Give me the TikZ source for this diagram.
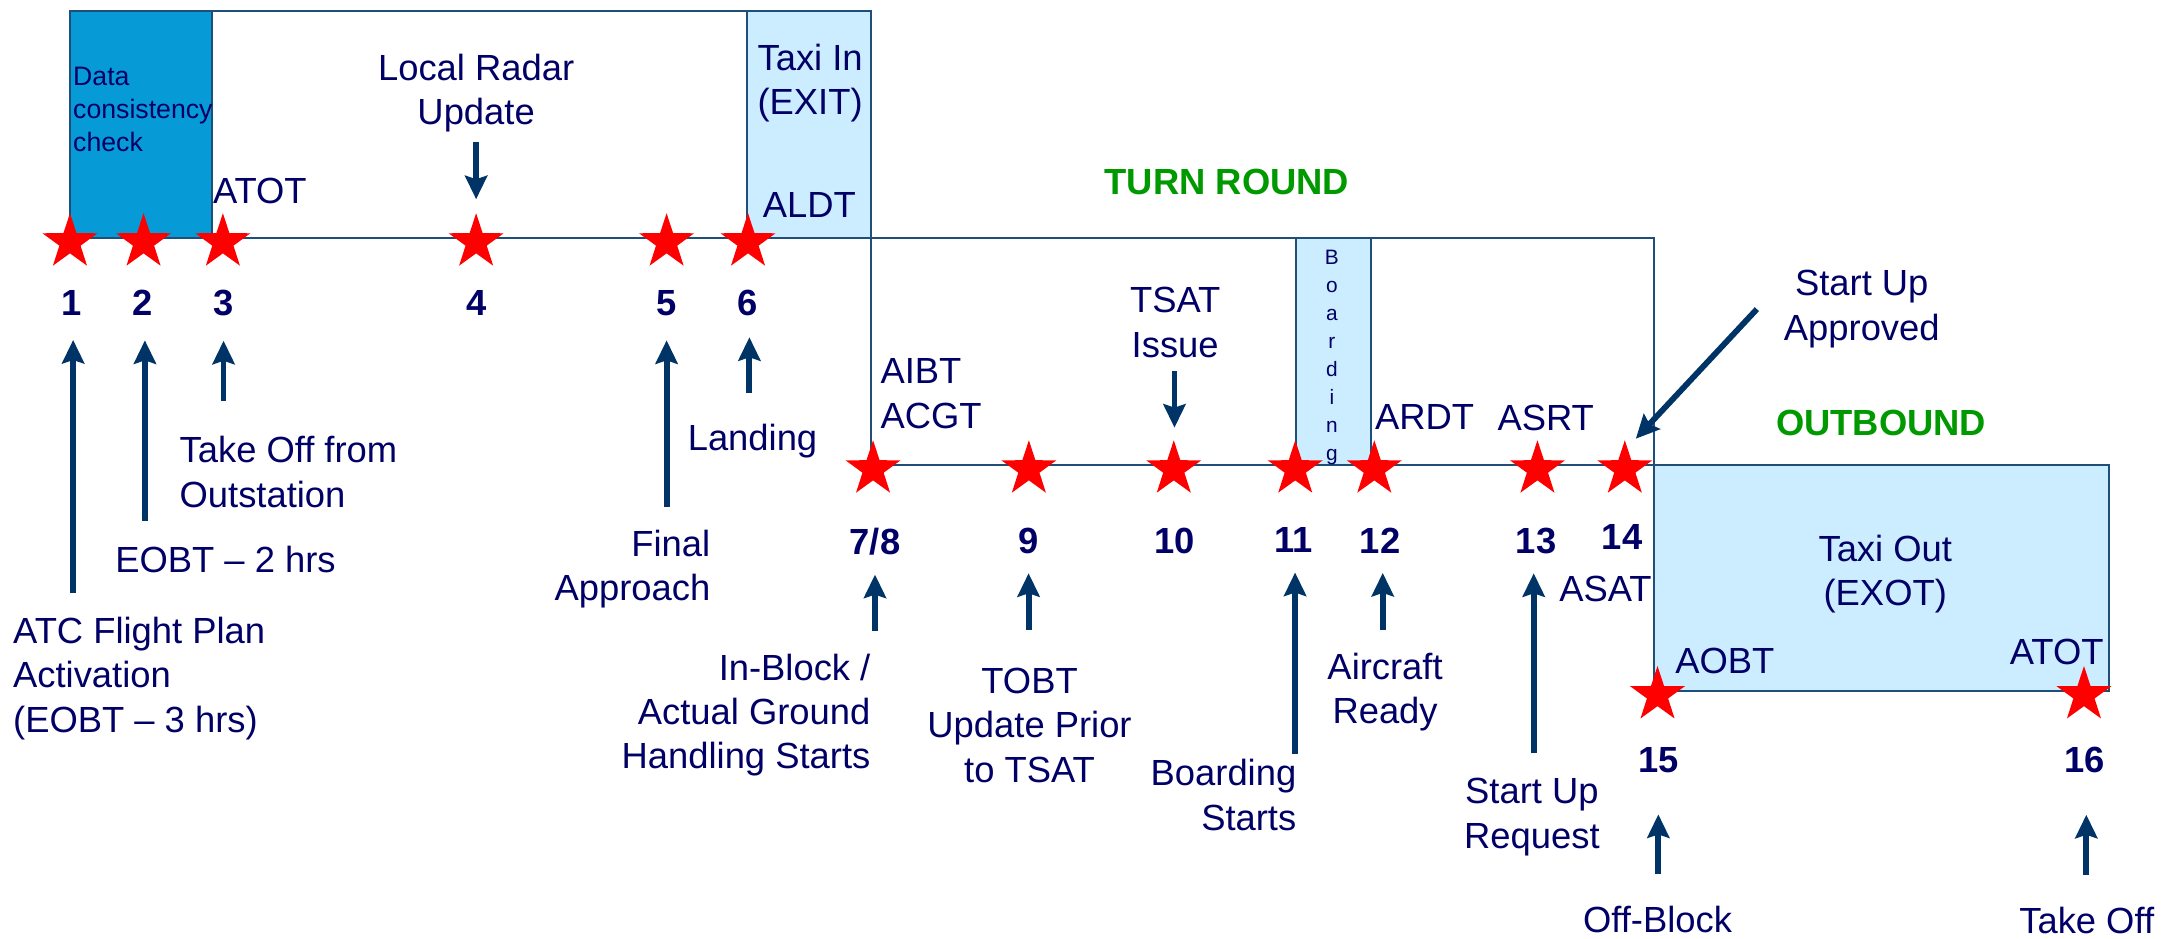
\documentclass[tikz,border=0pt]{standalone}
\usepackage{fontspec}
\setmainfont{Liberation Sans}
\usetikzlibrary{shapes.geometric,arrows.meta}
\definecolor{marine}{RGB}{0,0,102}
\definecolor{bleufleche}{RGB}{0,51,102}
\definecolor{trait}{RGB}{31,78,121}
\definecolor{bleufonce}{RGB}{6,155,215}
\definecolor{bleuclair}{RGB}{204,236,255}
\definecolor{vert}{RGB}{0,153,0}

\begin{document}
\begin{tikzpicture}[x=0.02cm, y=-0.02cm]
\tikzset{etoile/.style={star, star points=5, star point ratio=2.6, fill=red, minimum size=0.84cm, inner sep=0pt},
  boite/.style={draw=trait, line width=0.8pt},
  texte/.style={font=\fontsize{15}{18.2}\selectfont, text=marine, inner sep=0pt, align=center},
  petit/.style={font=\fontsize{11}{13.6}\selectfont, text=marine, inner sep=0pt, align=left},
  titre/.style={font=\bfseries\fontsize{15}{18}\selectfont, text=vert, inner sep=0pt},
  numero/.style={font=\bfseries\fontsize{15}{18}\selectfont, text=marine, inner sep=0pt, anchor=north},
  fleche/.style={draw=bleufleche, line width=2.4pt, -{Stealth[length=0.34cm, width=0.32cm, inset=0.05cm]}}}
\useasboundingbox (0,0) rectangle (1568,680);
\draw[boite] (50.7,8) rectangle (631,172.3);
\draw[boite, fill=bleufonce] (50.7,8) rectangle (153.5,172.3);
\draw[boite, fill=bleuclair] (541,8) rectangle (631,172.3);
\draw[boite] (631,172.3) rectangle (1198.5,337);
\draw[boite, fill=bleuclair] (939,172.3) rectangle (993.5,337);
\draw[boite, fill=bleuclair] (1198.5,337) rectangle (1528,500.5);
\node[etoile] (E1) at (50.7,175.5) {};
\node[etoile] (E2) at (104,175.5) {};
\node[etoile] (E3) at (161.5,175.5) {};
\node[etoile] (E4) at (345,175.5) {};
\node[etoile] (E5) at (483,175.5) {};
\node[etoile] (E6) at (542,175.5) {};
\node[etoile] (E78) at (632.6,340) {};
\node[etoile] (E9) at (745.5,340) {};
\node[etoile] (E10) at (850.5,340) {};
\node[etoile] (E11) at (938.5,340) {};
\node[etoile] (E12) at (995.8,340) {};
\node[etoile] (E13) at (1114,340) {};
\node[etoile] (E14) at (1177.3,340) {};
\node[etoile] (E15) at (1201,503.6) {};
\node[etoile] (E16) at (1510,503.6) {};
\node[numero] (N1) at (52,210) {1};
\node[numero] (N2) at (103,210) {2};
\node[numero] (N3) at (162,210) {3};
\node[numero] (N4) at (345,210) {4};
\node[numero] (N5) at (483,210) {5};
\node[numero] (N6) at (542,210) {6};
\node[numero] (N78) at (634,382) {7/8};
\node[numero] (N9) at (745.3,382) {9};
\node[numero] (N10) at (851,382) {10};
\node[numero] (N11) at (937.4,382) {11};
\node[numero] (N12) at (1000,382) {12};
\node[numero] (N13) at (1113,382) {13};
\node[numero] (N14) at (1175.4,380) {14};
\node[numero] (N15) at (1202,541) {15};
\node[numero] (N16) at (1510.4,541) {16};
\node[petit, anchor=north west] (Tdc) at (52.7,48) {Data\\consistency\\check};
\node[texte, anchor=north] (T4) at (345,38.6) {Local Radar\\Update};
\node[texte, anchor=north] (Ttxi) at (587,31.4) {Taxi In\\(EXIT)};
\node[texte, anchor=north] (Taldt) at (586.5,139) {ALDT};
\node[texte, anchor=north west] (Tatot) at (154,129) {ATOT};
\node[titre, anchor=north] (Ttr) at (889,122) {TURN ROUND};
\node[texte, anchor=north west, align=left] (Taibt) at (637.7,259.7) {AIBT\\ACGT};
\node[texte, anchor=north] (T10) at (851.5,208) {TSAT\\Issue};
\node[text=marine, font=\fontsize{8.6}{11.55}\selectfont, inner sep=0pt, align=center, anchor=north] (Tbrd) at (965,181.2) {B\\o\\a\\r\\d\\i\\n\\g};
\node[texte, anchor=north west] (Tardt) at (996,292.7) {ARDT};
\node[texte, anchor=north] (Tasrt) at (1120,293.5) {ASRT};
\node[texte, anchor=north] (T14) at (1349,195.7) {Start Up\\Approved};
\node[titre, anchor=north] (Tout) at (1363,297) {OUTBOUND};
\node[texte, anchor=north] (Ttxo) at (1366,387.6) {Taxi Out\\(EXOT)};
\node[texte, anchor=north west] (Taobt) at (1213.5,469.5) {AOBT};
\node[texte, anchor=north east] (Tatot2) at (1524.5,462.8) {ATOT};
\node[texte, anchor=north west] (Tasat) at (1129.5,416.9) {ASAT};
\node[texte, anchor=north west, align=left] (T3) at (129.8,316) {Take Off from\\Outstation};
\node[texte, anchor=north west] (T2) at (83.2,395.6) {EOBT -- 2 hrs};
\node[texte, anchor=north west, align=left] (T1) at (9.2,447) {ATC Flight Plan\\Activation\\(EOBT -- 3 hrs)};
\node[texte, anchor=north east, align=right] (T5) at (515,383.8) {Final\\Approach};
\node[texte, anchor=north west] (T6) at (498,307) {Landing};
\node[texte, anchor=north east, align=right] (T78) at (631,473.7) {In-Block /\\Actual Ground\\Handling Starts};
\node[texte, anchor=north] (T9) at (746,484) {TOBT\\Update Prior\\to TSAT};
\node[texte, anchor=north east, align=right] (T11) at (939.6,550) {Boarding\\Starts};
\node[texte, anchor=north] (T12) at (1003.6,472.9) {Aircraft\\Ready};
\node[texte, anchor=north] (T13) at (1110,563.8) {Start Up\\Request};
\node[texte, anchor=north] (T15) at (1201,656) {Off-Block};
\node[texte, anchor=north] (T16) at (1512,657) {Take Off};
\coordinate (Q1) at (53,430);
\coordinate (Q2) at (105,377.3);
\coordinate (Q3) at (162,290.4);
\coordinate (Q4) at (345,102.7);
\coordinate (Q5) at (483,367);
\coordinate (Q6) at (543,284.6);
\coordinate (Q78) at (634,457.5);
\coordinate (Q9) at (745.3,456.2);
\coordinate (Q10) at (851,269);
\coordinate (Q11) at (938.4,546.4);
\coordinate (Q12) at (1001.9,456.2);
\coordinate (Q13) at (1111.3,545.9);
\coordinate (Q14) at (1273,224);
\coordinate (Q15) at (1201.6,633.5);
\coordinate (Q16) at (1511.7,633.7);
\draw[fleche, shorten >=0.35cm] (Q1) -- (Q1 |- N1.south);
\draw[fleche, shorten >=0.35cm] (Q2) -- (Q2 |- N2.south);
\draw[fleche, shorten >=0.35cm] (Q3) -- (Q3 |- N3.south);
\draw[fleche, shorten >=0.35cm] (Q5) -- (Q5 |- N5.south);
\draw[fleche, shorten >=0.3cm] (Q6) -- (Q6 |- N6.south);
\draw[fleche, shorten >=0.18cm] (Q4) -- (Q4 |- E4.north);
\draw[fleche, shorten >=0.28cm] (Q78) -- (Q78 |- N78.south);
\draw[fleche, shorten >=0.28cm] (Q9) -- (Q9 |- N9.south);
\draw[fleche, shorten >=0.16cm] (Q10) -- (Q10 |- E10.north);
\draw[fleche, shorten >=0.28cm] (Q11) -- (Q11 |- N11.south);
\draw[fleche, shorten >=0.28cm] (Q12) -- (Q12 |- N12.south);
\draw[fleche, shorten >=0.28cm] (Q13) -- (Q13 |- N13.south);
\draw[fleche] (Q14) -- ([xshift=0.16cm]E14.north);
\draw[fleche, shorten >=0.6cm] (Q15) -- (Q15 |- N15.south);
\draw[fleche, shorten >=0.6cm] (Q16) -- (Q16 |- N16.south);
\end{tikzpicture}
\end{document}
